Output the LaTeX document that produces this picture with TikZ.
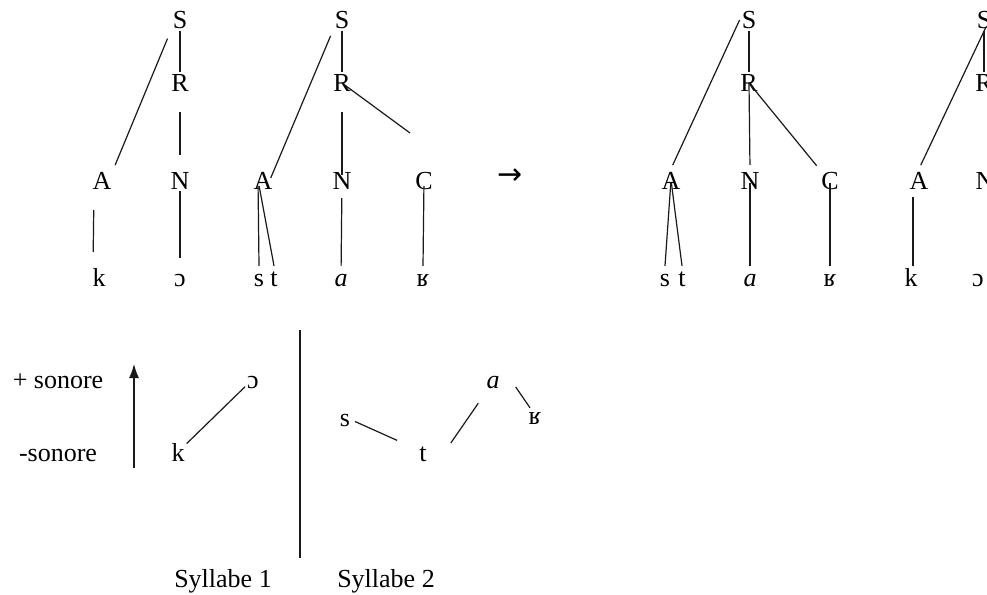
\documentclass[tikz,border=0pt]{standalone}
\usepackage{fontspec}
\setmainfont{Liberation Serif}
\newfontfamily\arrowfont{DejaVu Sans}
\usetikzlibrary{arrows.meta}

\begin{document}
\begin{tikzpicture}[x=1pt,y=-1pt,>=Latex,
  every node/.style={font=\fontsize{26}{30}\selectfont},
  seg/.style={inner sep=2pt,text height=18pt,text depth=0pt,anchor=base},
  txt/.style={inner sep=0pt,anchor=base},
  br/.style={line width=1.2pt,black!90}]
  \useasboundingbox (0,0) rectangle (987,594);
  \clip (0,0) rectangle (987,594);

  % syllabe k-o
  \node[seg] (root1) at (180,29) {S};
  \node[seg] (rime1) at (180,92) {R};
  \node[seg] (ons1) at (102,189) {A};
  \node[seg] (nuc1) at (180,189) {N};
  \node[seg] (k1) at (99,286) {k};
  \node[seg] (o1) at (180,286) {ɔ};
  \draw[br,shorten <=8pt,shorten >=4pt] (root1.south west) -- (ons1.north east);
  \draw[br] (root1) -- (rime1);
  \draw[br,shorten <=18pt,shorten >=14pt] (rime1) -- (nuc1);
  \draw[br,shorten >=8pt] (nuc1) -- (o1);
  \draw[br,shorten <=19pt,shorten >=14pt] ([xshift=-8pt]ons1.south) -- ([xshift=-6pt]k1.north);

  % syllabe s-t-a-r
  \node[seg] (root2) at (342,29) {S};
  \node[seg] (rime2) at (342,92) {R};
  \node[seg] (ons2) at (263,189) {A};
  \node[seg] (nuc2) at (342,189) {N};
  \node[seg] (cod2) at (424,189) {C};
  \node[seg] (s2) at (259,286) {s};
  \node[seg] (t2) at (274,286) {t};
  \node[seg] (a2) at (341,286) {\textit{a}};
  \node[seg] (rr2) at (423,286) {ʁ};
  \coordinate (rc2) at (410,133);
  \draw[br,shorten <=5pt,shorten >=-10pt] (root2.south west) -- (ons2.north east);
  \draw[br] (root2) -- (rime2);
  \draw[br,shorten <=18pt,shorten >=-6pt] (rime2) -- (nuc2);
  \draw[br] (rime2.center) -- (rc2);
  \draw[br,shorten <=6pt] ([xshift=-5pt]ons2.center) -- (s2.north);
  \draw[br,shorten <=6pt] ([xshift=-5pt]ons2.center) -- (t2.north);
  \draw[br,shorten <=7pt] (nuc2) -- (a2);
  \draw[br,shorten <=6pt] (cod2.center) -- (rr2.north);

  \node[font=\arrowfont\fontsize{30}{34}\selectfont] (goes) at (510,177) {→};

  % resyllabation
  \node[seg] (root3) at (749,29) {S};
  \node[seg] (rime3) at (749,92) {R};
  \node[seg] (ons3) at (671,189) {A};
  \node[seg] (nuc3) at (750,189) {N};
  \node[seg] (cod3) at (830,189) {C};
  \node[seg] (s3) at (665,286) {s};
  \node[seg] (t3) at (682,286) {t};
  \node[seg] (a3) at (750,286) {\textit{a}};
  \node[seg] (rr3) at (830,286) {ʁ};
  \draw[br,shorten >=4pt] (root3.west) -- (ons3.north);
  \draw[br] (root3) -- (rime3);
  \draw[br,shorten >=4pt] (rime3.center) -- (nuc3.north);
  \draw[br,shorten >=4pt] (rime3.center) -- (cod3.north west);
  \draw[br,shorten <=3pt] (ons3.center) -- (s3.north);
  \draw[br,shorten <=3pt] (ons3.center) -- (t3.north);
  \draw[br,shorten <=3pt] (nuc3.center) -- (a3.north);
  \draw[br,shorten <=3pt] (cod3.center) -- (rr3.north);

  \node[seg] (root4) at (984,29) {S};
  \node[seg] (rime4) at (984,92) {R};
  \node[seg] (ons4) at (919,189) {A};
  \node[seg] (nuc4) at (985,189) {N};
  \node[seg] (k4) at (911,286) {k};
  \node[seg] (o4) at (978,286) {ɔ};
  \draw[br,shorten <=-4pt,shorten >=4pt] (root4.south) -- (ons4.north);
  \draw[br] (root4) -- (rime4);
  \draw[br,shorten <=6pt] ([xshift=-6pt]ons4.south) -- ([xshift=2pt]k4.north);

  % sonorite
  \node[txt] (plus) at (58,388) {+ sonore};
  \node[txt] (minus) at (58,461) {-sonore};
  \coordinate (lo) at (134,468);
  \coordinate (hi) at (134,364);
  \draw[br,-{Latex[length=14pt,width=10pt]}] (lo) -- (hi);

  \node[seg] (k5) at (178,461) {k};
  \node[seg] (o5) at (253,388) {ɔ};
  \draw[br] (k5) -- (o5);

  \coordinate (sepTop) at (300,330);
  \coordinate (sepBot) at (300,558);
  \draw[br] (sepTop) -- (sepBot);

  \node[seg] (s6) at (345,426) {s};
  \node[seg] (t6) at (423,461) {t};
  \node[seg] (a6) at (493,388) {\textit{a}};
  \node[seg] (rr6) at (535,424) {ʁ};
  \draw[br,shorten <=3pt,shorten >=22pt] (s6) -- (t6);
  \draw[br] ([xshift=22pt,yshift=9pt]t6.east) -- ([xshift=-6pt,yshift=-13pt]a6.south west);
  \draw[br] ([xshift=14pt,yshift=-8pt]a6.east) -- ([xshift=-5pt,yshift=-4pt]rr6.north);

  \node[txt] (syl1) at (223,587) {Syllabe 1};
  \node[txt] (syl2) at (386,587) {Syllabe 2};
\end{tikzpicture}
\end{document}
